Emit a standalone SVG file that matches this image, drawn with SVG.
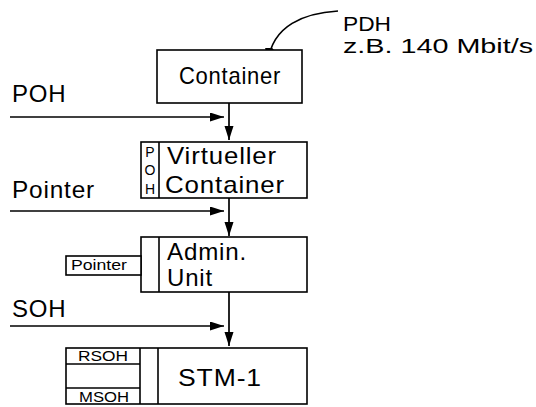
<svg xmlns="http://www.w3.org/2000/svg" width="536" height="407" viewBox="0 0 536 407">
<defs>
<marker id="ah" markerUnits="userSpaceOnUse" markerWidth="16" markerHeight="12" refX="14" refY="4.5" orient="auto">
<path d="M0,0 L14,4.5 L0,9 Z" fill="#000"/>
</marker>
<style>
.box{fill:#fff;stroke:#000;stroke-width:1.6}
.ln{fill:none;stroke:#000;stroke-width:1.6}
.t{font-family:"Liberation Sans",Arial,sans-serif;font-size:24px;letter-spacing:0.8px;fill:#000}
.p{font-family:"Liberation Sans",Arial,sans-serif;font-size:21px;fill:#000}
.s{font-family:"Liberation Sans",Arial,sans-serif;font-size:14px;fill:#000}
.c{fill:none;stroke:#000;stroke-width:1.7;marker-end:url(#ah)}
</style>
</defs>
<rect width="536" height="407" fill="#fff"/>
<g id="connectors">
<path class="c" d="M338,11 C305,13 272,25 268,62"/>
<path class="c" d="M10,117 L224,117"/>
<path class="c" d="M229,103 L229,140"/>
<path class="c" d="M10,211 L224,211"/>
<path class="c" d="M229,198 L229,236"/>
<path class="c" d="M10,326 L224,326"/>
<path class="c" d="M229,292 L229,346"/>
</g>
<g id="pdh-label">
<text class="p" x="343" y="31" textLength="48" lengthAdjust="spacingAndGlyphs">PDH</text>
<text class="p" x="343" y="53" textLength="190" lengthAdjust="spacingAndGlyphs">z.B. 140 Mbit/s</text>
</g>
<g id="poh-label"><text class="t" x="12" y="102">POH</text></g>
<g id="pointer-label"><text class="t" x="12" y="198" textLength="83" lengthAdjust="spacingAndGlyphs">Pointer</text></g>
<g id="soh-label"><text class="t" x="12" y="317">SOH</text></g>
<g id="container">
<rect class="box" x="157" y="50" width="145" height="53"/>
<text class="t" x="179" y="84" textLength="102" lengthAdjust="spacingAndGlyphs">Container</text>
</g>
<g id="virtueller-container">
<rect class="box" x="141" y="142" width="166" height="56"/>
<line class="ln" x1="159" y1="142" x2="159" y2="198"/>
<text class="s" x="150" y="157" text-anchor="middle">P</text>
<text class="s" x="150" y="175" text-anchor="middle">O</text>
<text class="s" x="150" y="194" text-anchor="middle">H</text>
<text class="t" x="167" y="164" textLength="110" lengthAdjust="spacingAndGlyphs">Virtueller</text>
<text class="t" x="165" y="193" textLength="120" lengthAdjust="spacingAndGlyphs">Container</text>
</g>
<g id="admin-unit">
<rect class="box" x="141" y="237" width="166" height="55"/>
<line class="ln" x1="159" y1="237" x2="159" y2="292"/>
<rect class="box" x="66" y="256" width="75" height="19"/>
<text class="s" x="71" y="270" textLength="56" lengthAdjust="spacingAndGlyphs">Pointer</text>
<text class="t" x="167" y="260" textLength="80" lengthAdjust="spacingAndGlyphs">Admin.</text>
<text class="t" x="167" y="286">Unit</text>
</g>
<g id="stm-1">
<rect class="box" x="66" y="348" width="241" height="56"/>
<line class="ln" x1="140" y1="348" x2="140" y2="404"/>
<line class="ln" x1="158" y1="348" x2="158" y2="404"/>
<line class="ln" x1="66" y1="364" x2="140" y2="364"/>
<line class="ln" x1="66" y1="388" x2="140" y2="388"/>
<text class="s" x="78" y="361" textLength="50" lengthAdjust="spacingAndGlyphs">RSOH</text>
<text class="s" x="79" y="402" textLength="50" lengthAdjust="spacingAndGlyphs">MSOH</text>
<text class="t" x="178" y="386" textLength="84" lengthAdjust="spacingAndGlyphs">STM-1</text>
</g>
</svg>
